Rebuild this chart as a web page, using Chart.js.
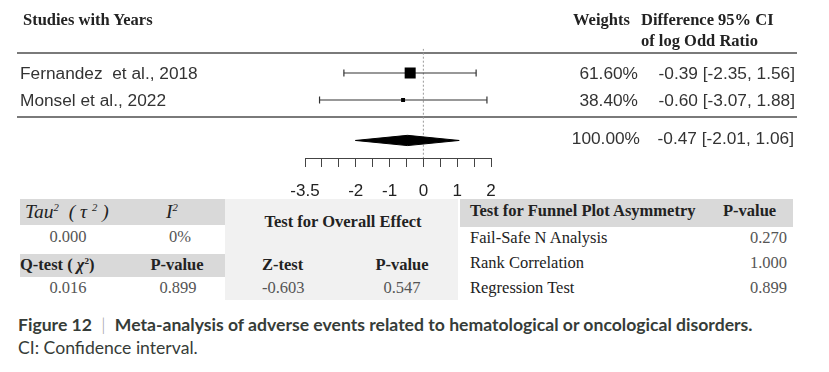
<!DOCTYPE html>
<html>
<head>
<meta charset="utf-8">
<script src="https://cdn.jsdelivr.net/npm/chart.js@4.4.0/dist/chart.umd.min.js"></script>
<style>
  html, body { margin: 0; padding: 0; background: #fff; }
  #page { position: relative; width: 829px; height: 372px; overflow: hidden; }
  #chartBox { position: absolute; left: 0; top: 0; width: 829px; height: 200px; }
  .t { position: absolute; white-space: nowrap; }
  .serif { font-family: "Liberation Serif", "Times New Roman", serif; font-size: 16.5px; color: #222; }
  .sans { font-family: "Liberation Sans", Arial, sans-serif; font-size: 17.3px; color: #333; }
  .val { color: #555; }
  .big { font-size: 19.5px; }
  .rule { position: absolute; left: 17px; width: 780px; height: 2px; background: #7a7a7a; }
  .box { position: absolute; }
  sup { font-size: 55%; line-height: 0; }
</style>
</head>
<body>
<div id="page">
  <div class="box" style="left:20px;top:199px;width:205px;height:26px;background:#d9d9d9"></div>
  <div class="box" style="left:20px;top:254px;width:205px;height:23px;background:#d9d9d9"></div>
  <div class="box" style="left:225px;top:199px;width:233px;height:101px;background:#f1f1f1"></div>
  <div class="box" style="left:460px;top:199px;width:333px;height:28px;background:#d9d9d9"></div>
  <div class="rule" style="top:52px"></div>
  <div class="rule" style="top:116px"></div>
  <div id="chartBox"><canvas id="forest"></canvas></div>
</div>
<script>
// studies
const studies = ['Fernandez  et al., 2018', 'Monsel et al., 2022'];
const weights = [61.60, 38.40];
const estimates = [-0.39, -0.60];
const lower = [-2.35, -3.07];
const upper = [1.56, 1.88];

// pooled result
const pooledWeight = 100.00;
const pooledEst = -0.47;
const pooledLower = -2.01;
const pooledUpper = 1.06;

// x axis
const tickValues = [-3.5, -3, -2.5, -2, -1.5, -1, -0.5, 0, 0.5, 1, 1.5, 2];
const labeledTicks = [-3.5, -2, -1, 0, 1, 2];

// bottom tables
const tau2 = '0.000';
const i2 = '0%';
const qTest = '0.016';
const qP = '0.899';
const zTest = '-0.603';
const zP = '0.547';
const funnelTests = ['Fail-Safe N Analysis', 'Rank Correlation', 'Regression Test'];
const funnelP = ['0.270', '1.000', '0.899'];

const page = document.getElementById('page');

// put a text at (x, centre y); align: left | right | center
function txt(html, x, cy, cls, align, lh) {
  lh = lh || 22;
  const d = document.createElement('div');
  d.className = 't ' + cls;
  d.innerHTML = html;
  d.style.top = (cy - lh / 2) + 'px';
  d.style.height = lh + 'px';
  d.style.lineHeight = lh + 'px';
  if (align === 'right') {
    d.style.right = (829 - x) + 'px';
  } else if (align === 'center') {
    d.style.left = (x - 150) + 'px';
    d.style.width = '300px';
    d.style.textAlign = 'center';
  } else {
    d.style.left = x + 'px';
  }
  page.appendChild(d);
  return d;
}

const fmtCI = (e, lo, hi) => e.toFixed(2) + ' [' + lo.toFixed(2) + ', ' + hi.toFixed(2) + ']';

// header
txt('<b>Studies with Years</b>', 23, 20, 'serif');
txt('<b>Weights</b>', 573, 20, 'serif');
txt('<b>Difference 95% CI</b>', 641, 20, 'serif');
txt('<b>of log Odd Ratio</b>', 641, 41, 'serif');

// study rows
const rowPx = [73, 100];
studies.forEach((s, i) => {
  txt(s.replace(/ /g, '&nbsp;'), 20, rowPx[i], 'sans');
  txt(weights[i].toFixed(2) + '%', 638, rowPx[i], 'sans', 'right');
  txt(fmtCI(estimates[i], lower[i], upper[i]), 795, rowPx[i], 'sans', 'right');
});
txt(pooledWeight.toFixed(2) + '%', 640, 138, 'sans', 'right');
txt(fmtCI(pooledEst, pooledLower, pooledUpper), 794, 138, 'sans', 'right');

// heterogeneity table
txt('<i>Tau<sup>2</sup>&nbsp; (&nbsp;&tau;&nbsp;<sup>2</sup>&nbsp;)</i>', 25, 212, 'serif big');
txt('<i>I<sup>2</sup></i>', 172, 212, 'serif big', 'center');
txt(tau2, 68, 237, 'serif val', 'center');
txt(i2, 180, 237, 'serif val', 'center');
txt('<b>Q-test (&nbsp;<i>&chi;</i><sup>2</sup>)</b>', 20, 265, 'serif');
txt('<b>P-value</b>', 177, 265, 'serif', 'center');
txt(qTest, 68, 288, 'serif val', 'center');
txt(qP, 178, 288, 'serif val', 'center');

// overall effect
txt('<b>Test for Overall Effect</b>', 343, 222, 'serif', 'center');
txt('<b>Z-test</b>', 262, 265, 'serif');
txt('<b>P-value</b>', 402, 265, 'serif', 'center');
txt(zTest, 262, 288, 'serif val');
txt(zP, 402, 288, 'serif val', 'center');

// funnel plot asymmetry
txt('<b>Test for Funnel Plot Asymmetry</b>', 470, 211, 'serif');
txt('<b>P-value</b>', 723, 211, 'serif');
funnelTests.forEach((n, i) => {
  txt(n, 470, 238 + i * 25, 'serif');
  txt(funnelP[i], 787, 238 + i * 25, 'serif val', 'right');
});

// caption
const cap = txt('<b>Figure 12</b> <span style="color:#999;font-weight:300">&nbsp;|&nbsp;</span> <b>Meta-analysis of adverse events related to hematological or oncological disorders.</b>', 18, 325, 'cap');
const cap2 = txt('CI: Confidence interval.', 18, 348, 'cap');
[cap, cap2].forEach(c => { c.style.fontFamily = 'Lato, "Open Sans", sans-serif'; c.style.fontSize = '17.6px'; c.style.color = '#363c38'; });

// forest plot
const pooledRow = 2.5;
const dh = 0.19;
const markerSize = w => 2.8 + (w - 38.4) * 0.215;

const datasets = [];
datasets.push({
  data: [{ x: pooledLower, y: pooledRow }, { x: pooledEst, y: pooledRow - dh }, { x: pooledUpper, y: pooledRow }],
  showLine: true, pointRadius: 0, borderColor: '#000', borderWidth: 1, fill: false
});
datasets.push({
  data: [{ x: pooledLower, y: pooledRow }, { x: pooledEst, y: pooledRow + dh }, { x: pooledUpper, y: pooledRow }],
  showLine: true, pointRadius: 0, borderColor: '#000', borderWidth: 1, fill: '-1', backgroundColor: '#000'
});
datasets.push({
  data: estimates.map((e, i) => ({ x: e, y: i })),
  pointStyle: 'rect',
  pointRadius: ctx => markerSize(weights[ctx.dataIndex]),
  backgroundColor: '#000', borderColor: '#000', borderWidth: 0
});
studies.forEach((s, i) => {
  datasets.push({
    data: [{ x: lower[i], y: i }, { x: upper[i], y: i }],
    showLine: true, borderColor: '#333', borderWidth: 1.2,
    pointStyle: 'line', rotation: 90, pointRadius: 3.5,
    pointBorderColor: '#333', pointBorderWidth: 1.2
  });
});
datasets.push({
  data: [{ x: 0, y: -0.9 }, { x: 0, y: 3.15 }],
  showLine: true, pointRadius: 0, borderColor: '#9a9a9a', borderWidth: 1, borderDash: [2, 2]
});

new Chart(document.getElementById('forest'), {
  type: 'scatter',
  data: { datasets: datasets },
  options: {
    responsive: true,
    maintainAspectRatio: false,
    animation: false,
    layout: { padding: { left: 305, right: 338, top: 48.7, bottom: 0 } },
    plugins: { legend: { display: false }, tooltip: { enabled: false } },
    scales: {
      x: {
        type: 'linear', min: -3.5, max: 2,
        afterBuildTicks: s => { s.ticks = tickValues.map(v => ({ value: v })); },
        afterFit: s => { s.height = 42; },
        grid: { drawOnChartArea: false, drawTicks: true, tickLength: 9, tickColor: '#444', tickWidth: 1 },
        border: { display: true, color: '#444', width: 1 },
        ticks: {
          autoSkip: false, maxRotation: 0, padding: 14, color: '#222',
          font: { family: 'Liberation Sans', size: 17 },
          callback: v => labeledTicks.includes(v) ? String(v) : ''
        }
      },
      y: { type: 'linear', reverse: true, min: -0.9, max: 3.15, display: false }
    }
  }
});
</script>
</body>
</html>
